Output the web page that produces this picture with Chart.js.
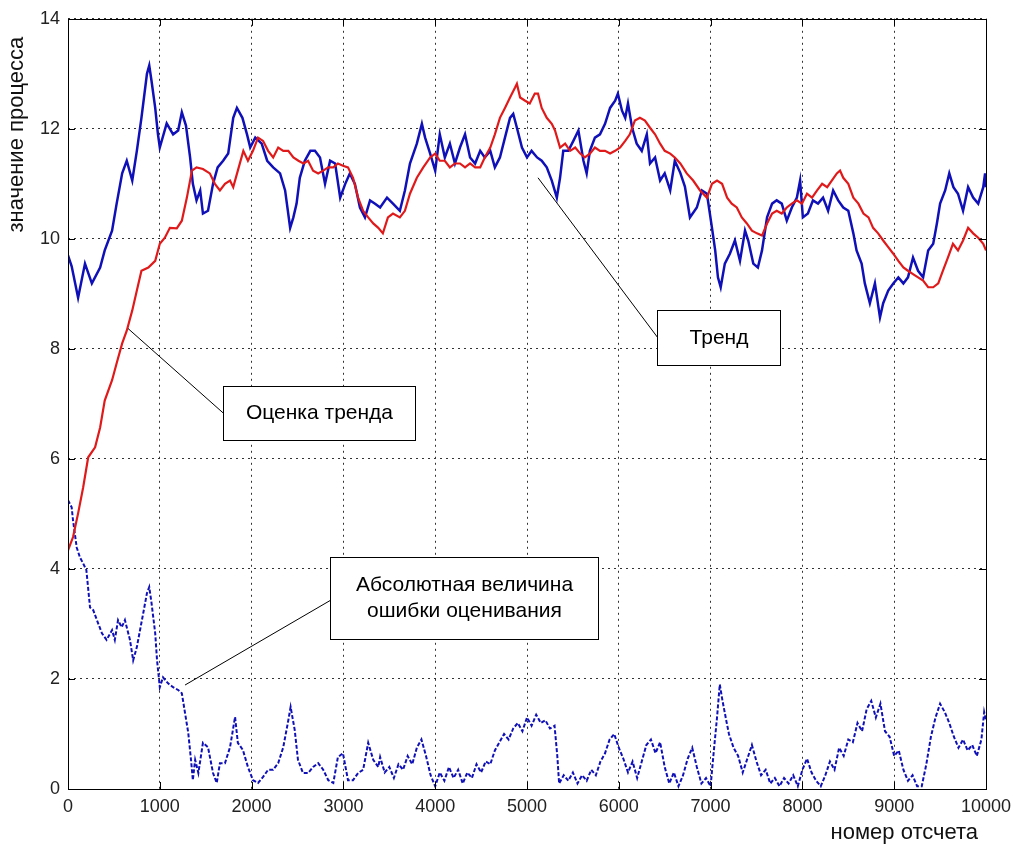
<!DOCTYPE html>
<html>
<head>
<meta charset="utf-8">
<script src="https://cdn.jsdelivr.net/npm/chart.js@4.4.1/dist/chart.umd.min.js"></script>
<style>
  body { margin: 0; background: #fff; }
  canvas { display: block; }
</style>
</head>
<body>
<canvas id="myChart" width="1021" height="848"></canvas>
<script>
// axis ticks
var xTicks = [0, 1000, 2000, 3000, 4000, 5000, 6000, 7000, 8000, 9000, 10000];
var yTicks = [0, 2, 4, 6, 8, 10, 12, 14];

// true trend (blue)
var trendX = [0, 40, 110, 185, 260, 350, 400, 480, 530, 590, 640, 700, 750, 800, 860, 885, 910, 950, 980, 1000,
  1075, 1145, 1200, 1240, 1285, 1330, 1360, 1400, 1440, 1470, 1525, 1580, 1630, 1690, 1745, 1800, 1840, 1900, 1950, 1985,
  2040, 2110, 2170, 2235, 2310, 2365, 2420, 2455, 2490, 2525, 2580, 2640, 2690, 2745, 2800, 2855, 2910, 2965, 3020, 3070,
  3125, 3180, 3235, 3290, 3345, 3400, 3475, 3540, 3615, 3670, 3725, 3800, 3855, 3890, 3945, 4000, 4050, 4105, 4160, 4215,
  4270, 4325, 4380, 4435, 4490, 4540, 4600, 4650, 4705, 4760, 4815, 4850, 4890, 4945, 5000, 5050, 5110, 5160, 5215, 5270,
  5325, 5360, 5395, 5450, 5505, 5560, 5615, 5650, 5685, 5740, 5795, 5850, 5905, 5960, 5990, 6035, 6070, 6100, 6145, 6195,
  6250, 6305, 6340, 6395, 6450, 6500, 6560, 6610, 6670, 6720, 6775, 6850, 6905, 6960, 7015, 7050, 7080, 7110, 7155, 7210,
  7265, 7320, 7375, 7410, 7465, 7515, 7560, 7615, 7670, 7720, 7775, 7830, 7885, 7940, 7975, 8005, 8060, 8115, 8170, 8225,
  8280, 8335, 8390, 8445, 8500, 8555, 8590, 8645, 8680, 8735, 8790, 8845, 8880, 8935, 8990, 9045, 9100, 9150, 9205, 9260,
  9315, 9370, 9425, 9465, 9500, 9555, 9600, 9645, 9695, 9750, 9805, 9860, 9915, 9970, 9990, 10000];
var trendY = [9.7, 9.5, 8.93, 9.55, 9.19, 9.48, 9.79, 10.15, 10.64, 11.19, 11.42, 11.06, 11.6, 12.2, 13.0, 13.15, 12.87, 12.38, 11.9, 11.66,
  12.1, 11.9, 11.97, 12.3, 12.06, 11.48, 11.0, 10.7, 10.88, 10.46, 10.51, 11.0, 11.3, 11.42, 11.55, 12.2, 12.38, 12.2, 11.9, 11.66,
  11.84, 11.73, 11.42, 11.3, 11.19, 10.88, 10.2, 10.39, 10.64, 11.11, 11.42, 11.6, 11.6, 11.48, 11.0, 11.42, 11.37, 10.75, 11.0, 11.19,
  11.0, 10.57, 10.39, 10.7, 10.64, 10.57, 10.75, 10.64, 10.51, 10.88, 11.37, 11.73, 12.09, 11.84, 11.55, 11.24, 11.9, 11.48, 11.73, 11.37,
  11.66, 11.9, 11.48, 11.37, 11.6, 11.48, 11.6, 11.3, 11.48, 11.84, 12.2, 12.27, 12.02, 11.66, 11.48, 11.6, 11.48, 11.42, 11.3, 11.06,
  10.75, 11.11, 11.6, 11.6, 11.78, 11.97, 11.42, 11.19, 11.6, 11.84, 11.9, 12.09, 12.38, 12.51, 12.64, 12.33, 12.2, 12.46, 12.02, 11.73,
  11.6, 11.9, 11.37, 11.48, 11.06, 11.19, 10.88, 11.42, 11.2, 10.95, 10.39, 10.57, 10.88, 10.82, 10.2, 9.79, 9.3, 9.12, 9.55, 9.73,
  9.97, 9.6, 10.15, 9.97, 9.55, 9.48, 9.79, 10.39, 10.64, 10.7, 10.64, 10.33, 10.57, 10.75, 11.06, 10.39, 10.46, 10.7, 10.64, 10.75,
  10.51, 10.88, 10.7, 10.57, 10.51, 10.1, 9.79, 9.55, 9.19, 8.83, 9.19, 8.57, 8.83, 9.06, 9.19, 9.3, 9.19, 9.3, 9.66, 9.42,
  9.3, 9.79, 9.91, 10.28, 10.64, 10.88, 11.19, 10.94, 10.82, 10.51, 10.94, 10.75, 10.64, 10.94, 11.19, 10.94];

// trend estimate (red)
var estX = [0, 55, 110, 165, 220, 295, 350, 400, 480, 530, 590, 640, 700, 750, 800, 875, 950, 1000, 1055, 1110,
  1185, 1240, 1295, 1350, 1400, 1470, 1545, 1600, 1655, 1710, 1765, 1800, 1850, 1910, 1960, 2015, 2070, 2125, 2180, 2235,
  2290, 2345, 2400, 2455, 2510, 2565, 2615, 2670, 2725, 2780, 2835, 2890, 2940, 2995, 3050, 3105, 3160, 3215, 3270, 3325,
  3380, 3430, 3485, 3540, 3615, 3670, 3725, 3800, 3870, 3945, 4000, 4050, 4105, 4160, 4215, 4270, 4325, 4380, 4435, 4490,
  4540, 4600, 4650, 4705, 4760, 4815, 4870, 4890, 4925, 4980, 5030, 5085, 5120, 5160, 5215, 5270, 5305, 5360, 5415, 5470,
  5525, 5580, 5630, 5685, 5740, 5795, 5850, 5905, 5960, 6015, 6070, 6120, 6175, 6230, 6285, 6340, 6395, 6450, 6500, 6560,
  6610, 6670, 6740, 6810, 6885, 6960, 7015, 7070, 7125, 7180, 7230, 7285, 7340, 7395, 7450, 7505, 7560, 7615, 7670, 7720,
  7775, 7830, 7885, 7940, 7995, 8050, 8105, 8160, 8215, 8270, 8320, 8375, 8410, 8445, 8500, 8555, 8610, 8665, 8720, 8770,
  8825, 8880, 8935, 8990, 9045, 9100, 9150, 9205, 9260, 9315, 9370, 9425, 9480, 9530, 9585, 9640, 9695, 9750, 9805, 9860,
  9915, 9970, 10000];
var estY = [4.34, 4.58, 5.01, 5.48, 6.03, 6.21, 6.57, 7.06, 7.43, 7.74, 8.1, 8.33, 8.7, 9.06, 9.42, 9.48, 9.6, 9.91, 10.02, 10.2,
  10.19, 10.33, 10.75, 11.24, 11.3, 11.27, 11.19, 11.0, 10.88, 11.0, 11.06, 10.94, 11.24, 11.6, 11.42, 11.6, 11.84, 11.78, 11.6, 11.48,
  11.66, 11.6, 11.6, 11.48, 11.42, 11.37, 11.42, 11.24, 11.19, 11.24, 11.3, 11.3, 11.37, 11.33, 11.3, 11.11, 10.75, 10.51, 10.39, 10.28,
  10.2, 10.1, 10.39, 10.46, 10.39, 10.51, 10.82, 11.11, 11.3, 11.48, 11.55, 11.42, 11.42, 11.3, 11.37, 11.37, 11.3, 11.37, 11.3, 11.3,
  11.48, 11.66, 11.9, 12.2, 12.38, 12.57, 12.75, 12.82, 12.57, 12.51, 12.46, 12.64, 12.64, 12.38, 12.2, 12.09, 11.97, 11.66, 11.73, 11.6,
  11.66, 11.55, 11.48, 11.55, 11.66, 11.6, 11.6, 11.55, 11.6, 11.66, 11.78, 11.9, 12.15, 12.2, 12.15, 12.02, 11.9, 11.73, 11.6, 11.55,
  11.48, 11.37, 11.19, 11.06, 10.88, 10.75, 11.0, 11.06, 11.0, 10.75, 10.64, 10.57, 10.39, 10.28, 10.15, 10.1, 10.06, 10.28, 10.46, 10.51,
  10.46, 10.57, 10.64, 10.7, 10.64, 10.82, 10.75, 10.88, 11.0, 10.94, 11.06, 11.19, 11.24, 11.11, 11.0, 10.75, 10.64, 10.46, 10.39, 10.2,
  10.1, 9.97, 9.85, 9.73, 9.6, 9.48, 9.42, 9.36, 9.3, 9.24, 9.12, 9.12, 9.19, 9.42, 9.66, 9.91, 9.79, 9.97, 10.2, 10.1,
  10.02, 9.91, 9.79];

// absolute estimation error (blue, dash-dot)
var errX = [0, 40, 55, 95, 130, 165, 200, 240, 275, 315, 370, 420, 480, 510, 545, 585, 620, 675, 710, 750,
  785, 820, 860, 885, 910, 950, 970, 1000, 1035, 1090, 1145, 1200, 1240, 1275, 1310, 1340, 1360, 1385, 1420, 1470,
  1525, 1580, 1620, 1655, 1710, 1765, 1820, 1850, 1905, 1960, 2015, 2070, 2125, 2180, 2235, 2290, 2345, 2400, 2425, 2470,
  2505, 2560, 2615, 2670, 2725, 2780, 2835, 2890, 2940, 2995, 3050, 3105, 3160, 3215, 3270, 3325, 3380, 3400, 3450, 3500,
  3550, 3600, 3650, 3700, 3750, 3800, 3850, 3900, 3950, 4000, 4050, 4100, 4150, 4200, 4250, 4300, 4350, 4400, 4450, 4500,
  4550, 4600, 4650, 4700, 4750, 4800, 4850, 4900, 4950, 5000, 5050, 5100, 5150, 5200, 5250, 5300, 5330, 5350, 5400, 5450,
  5500, 5550, 5600, 5650, 5700, 5750, 5800, 5850, 5900, 5950, 6000, 6050, 6100, 6150, 6200, 6250, 6300, 6350, 6400, 6450,
  6500, 6550, 6600, 6650, 6700, 6750, 6800, 6850, 6900, 6950, 7000, 7030, 7070, 7100, 7130, 7170, 7200, 7250, 7300, 7350,
  7400, 7450, 7500, 7550, 7600, 7650, 7700, 7750, 7800, 7850, 7900, 7950, 8000, 8050, 8100, 8150, 8200, 8250, 8300, 8350,
  8400, 8450, 8500, 8550, 8600, 8650, 8700, 8750, 8800, 8850, 8900, 8950, 9000, 9050, 9100, 9150, 9200, 9250, 9300, 9350,
  9400, 9450, 9500, 9550, 9600, 9650, 9700, 9750, 9800, 9850, 9900, 9950, 9980, 10000];
var errY = [5.25, 5.12, 4.88, 4.39, 4.21, 4.1, 3.98, 3.3, 3.25, 3.07, 2.83, 2.71, 2.89, 2.71, 3.07, 2.94, 3.07, 2.71, 2.34, 2.58,
  2.89, 3.2, 3.56, 3.67, 3.38, 2.83, 2.34, 1.85, 2.03, 1.92, 1.85, 1.8, 1.74, 1.38, 1.02, 0.53, 0.16, 0.53, 0.29, 0.84,
  0.76, 0.29, 0.11, 0.47, 0.47, 0.76, 1.31, 0.84, 0.71, 0.4, 0.16, 0.11, 0.22, 0.35, 0.35, 0.47, 0.76, 1.25, 1.49, 1.07,
  0.53, 0.29, 0.29, 0.4, 0.47, 0.35, 0.16, 0.11, 0.58, 0.65, 0.16, 0.16, 0.29, 0.35, 0.84, 0.53, 0.4, 0.58, 0.3, 0.4,
  0.2, 0.45, 0.35, 0.6, 0.45, 0.75, 0.9, 0.6, 0.25, 0.05, 0.3, 0.15, 0.4, 0.2, 0.35, 0.1, 0.3, 0.2, 0.45, 0.3,
  0.5, 0.45, 0.7, 0.85, 1.0, 0.9, 1.1, 1.2, 1.05, 1.3, 1.15, 1.35, 1.2, 1.25, 1.1, 1.15, 0.6, 0.1, 0.25, 0.15,
  0.3, 0.1, 0.25, 0.15, 0.35, 0.25, 0.5, 0.65, 0.9, 1.0, 0.75, 0.55, 0.3, 0.5, 0.2, 0.5, 0.8, 0.9, 0.65, 0.85,
  0.4, 0.1, 0.3, 0.05, 0.25, 0.55, 0.75, 0.4, 0.1, 0.2, 0.05, 0.6, 1.3, 1.9, 1.6, 1.25, 1.0, 0.75, 0.6, 0.3,
  0.55, 0.8, 0.5, 0.25, 0.35, 0.1, 0.2, 0.05, 0.2, 0.1, 0.25, 0.05, 0.35, 0.55, 0.3, 0.15, 0.05, 0.25, 0.5, 0.35,
  0.75, 0.6, 0.9, 0.85, 1.2, 1.05, 1.45, 1.6, 1.3, 1.55, 1.05, 0.95, 0.6, 0.7, 0.35, 0.15, 0.25, 0.05, 0.05, 0.45,
  0.95, 1.3, 1.55, 1.4, 1.2, 0.95, 0.75, 0.9, 0.7, 0.8, 0.6, 0.9, 1.4, 1.25];

// callout boxes: anchor point on a curve, box edges and hook height, all in data units
var notes = [
  { lines: ['Тренд'], at: [5120, 11.11], box: [6416, 7756, 8.70, 7.70], hook: 8.21 },
  { lines: ['Оценка тренда'], at: [654, 8.37], box: [1688, 3780, 7.32, 6.34], hook: 6.83 },
  { lines: ['Абсолютная величина', 'ошибки оценивания'], at: [1275, 1.89], box: [2854, 5773, 4.21, 2.72], hook: 3.43 }
];

var xTitle = 'номер отсчета';
var yTitle = 'значение процесса';

function pts(xs, ys) {
  return xs.map(function (v, i) { return { x: v, y: ys[i] }; });
}

var FONT = '"Liberation Sans", Arial, sans-serif';

var boxAndNotes = {
  id: 'boxAndNotes',
  afterDraw: function (chart) {
    var ctx = chart.ctx, a = chart.chartArea, x = chart.scales.x, y = chart.scales.y;
    ctx.save();
    ctx.strokeStyle = '#000';
    ctx.lineWidth = 1;
    // inward tick marks on all four sides
    ctx.beginPath();
    xTicks.forEach(function (v) {
      var px = Math.round(x.getPixelForValue(v)) + 0.5;
      ctx.moveTo(px, a.bottom); ctx.lineTo(px, a.bottom - 7);
      ctx.moveTo(px, a.top); ctx.lineTo(px, a.top + 7);
    });
    yTicks.forEach(function (v) {
      var py = Math.round(y.getPixelForValue(v)) + 0.5;
      ctx.moveTo(a.left, py); ctx.lineTo(a.left + 7, py);
      ctx.moveTo(a.right, py); ctx.lineTo(a.right - 7, py);
    });
    ctx.stroke();
    ctx.strokeRect(Math.round(a.left) + 0.5, Math.round(a.top) + 0.5,
      Math.round(a.right - a.left), Math.round(a.bottom - a.top));

    // axis titles: x at bottom right, y rotated near the top left
    ctx.fillStyle = '#111';
    ctx.font = '22px ' + FONT;
    ctx.textBaseline = 'middle';
    ctx.textAlign = 'right';
    ctx.fillText(xTitle, a.right - 8, a.bottom + 44);
    ctx.save();
    ctx.translate(17, a.top + 18);
    ctx.rotate(-Math.PI / 2);
    ctx.fillText(yTitle, 0, 0);
    ctx.restore();

    // callouts
    ctx.font = '21px ' + FONT;
    ctx.textAlign = 'center';
    notes.forEach(function (n) {
      var l = Math.round(x.getPixelForValue(n.box[0])) + 0.5;
      var r = Math.round(x.getPixelForValue(n.box[1])) + 0.5;
      var t = Math.round(y.getPixelForValue(n.box[2])) + 0.5;
      var b = Math.round(y.getPixelForValue(n.box[3])) + 0.5;
      ctx.beginPath();
      ctx.moveTo(x.getPixelForValue(n.at[0]), y.getPixelForValue(n.at[1]));
      ctx.lineTo(l, y.getPixelForValue(n.hook));
      ctx.stroke();
      ctx.fillStyle = '#fff';
      ctx.fillRect(l, t, r - l, b - t);
      ctx.strokeRect(l, t, r - l, b - t);
      ctx.fillStyle = '#000';
      var cx = (l + r) / 2, cy = (t + b) / 2, lh = 26;
      n.lines.forEach(function (s, i) {
        ctx.fillText(s, cx, cy + (i - (n.lines.length - 1) / 2) * lh);
      });
    });
    ctx.restore();
  }
};

var myChart = new Chart(document.getElementById('myChart'), {
  type: 'line',
  data: {
    datasets: [{
      label: 'Оценка тренда',
      data: pts(estX, estY),
      borderColor: '#e01a1a',
      borderWidth: 2.2,
      pointRadius: 0
    }, {
      label: 'Тренд',
      data: pts(trendX, trendY),
      borderColor: '#1010b8',
      borderWidth: 2.5,
      pointRadius: 0
    }, {
      label: 'Абсолютная величина ошибки оценивания',
      data: pts(errX, errY),
      borderColor: '#1010b8',
      borderWidth: 2,
      borderDash: [4, 2],
      pointRadius: 0
    }]
  },
  options: {
    responsive: false,
    devicePixelRatio: 1,
    animation: false,
    layout: { padding: { left: 0, right: 35, top: 18, bottom: 0 } },
    plugins: { legend: false, tooltip: { enabled: false } },
    elements: { line: { tension: 0 } },
    scales: {
      x: {
        type: 'linear',
        min: 0,
        max: 10000,
        afterBuildTicks: function (s) { s.ticks = xTicks.map(function (v) { return { value: v }; }); },
        afterFit: function (s) { s.height = 59; },
        ticks: {
          autoSkip: false,
          maxRotation: 0,
          padding: 7,
          color: '#222',
          font: { family: FONT, size: 18 },
          callback: function (v) { return String(v); }
        },
        grid: { color: '#333', lineWidth: 1, drawTicks: false },
        border: { display: false, dash: [2, 4] }
      },
      y: {
        min: 0,
        max: 14,
        afterBuildTicks: function (s) { s.ticks = yTicks.map(function (v) { return { value: v }; }); },
        afterFit: function (s) { s.width = 68; },
        ticks: {
          padding: 8,
          color: '#222',
          font: { family: FONT, size: 18 }
        },
        grid: { color: '#333', lineWidth: 1, drawTicks: false },
        border: { display: false, dash: [2, 4] }
      }
    }
  },
  plugins: [boxAndNotes]
});
</script>
</body>
</html>
